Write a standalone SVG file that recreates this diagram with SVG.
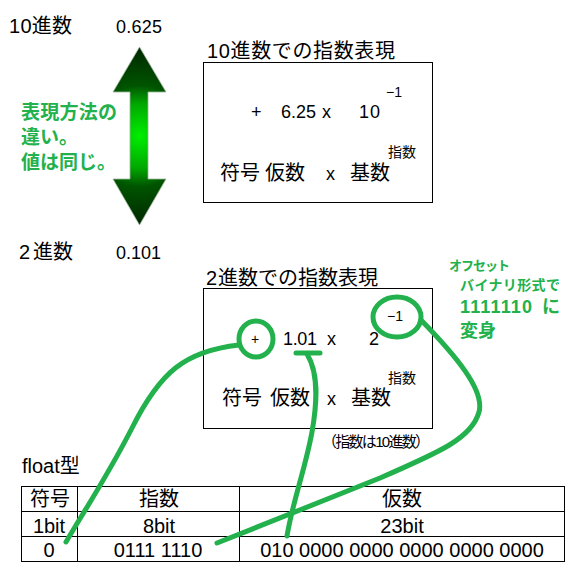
<svg xmlns="http://www.w3.org/2000/svg" width="575" height="577" viewBox="0 0 575 577">
<style>
text{font-family:"Liberation Sans","Noto Sans CJK JP",sans-serif;fill:#000}
.t20{font-size:20px}
.t18{font-size:18px}
.t14{font-size:14px}
.g{fill:#22b14c;font-weight:bold}
.box{fill:none;stroke:#000;stroke-width:1}
.hl{fill:none;stroke:#22b14c;stroke-width:5;stroke-linecap:round}
</style>
<defs>
<radialGradient id="ag" gradientUnits="userSpaceOnUse" cx="139.5" cy="136" r="92">
<stop offset="0" stop-color="#00ee00"/>
<stop offset="0.35" stop-color="#00a800"/>
<stop offset="0.55" stop-color="#005400"/>
<stop offset="1" stop-color="#002400"/>
</radialGradient>
</defs>
<rect width="575" height="577" fill="#fff"/>

<g id="labels-top">
<text class="t20" x="9" y="33" textLength="63" lengthAdjust="spacing">10進数</text>
<text class="t18" x="116" y="33" textLength="46" lengthAdjust="spacing">0.625</text>
<text class="t20" x="19" y="259">2<tspan x="33">進数</tspan></text>
<text class="t18" x="116" y="259" textLength="45" lengthAdjust="spacing">0.101</text>
</g>

<g id="arrow">
<polygon points="139.5,47 166,92 148,92 148,179 166,179 139.5,225 113,179 130,179 130,92 113,92" fill="url(#ag)" stroke="#9fb59f" stroke-width="0.8"/>
</g>

<g id="note-green">
<text class="g" x="21" y="119" font-size="19" textLength="96" lengthAdjust="spacing">表現方法の</text>
<text class="g" x="21" y="144" font-size="19">違い。</text>
<text class="g" x="21" y="169" font-size="19">値は同じ。</text>
</g>

<g id="decimal-exp">
<text class="t20" x="207" y="58" textLength="188" lengthAdjust="spacing">10進数での指数表現</text>
<rect class="box" x="203.5" y="62.5" width="229" height="140"/>
<text class="t18" x="251" y="118">+</text>
<text class="t18" x="281" y="118" textLength="35" lengthAdjust="spacing">6.25</text>
<text class="t18" x="322" y="118">x</text>
<text class="t18" x="359" y="118" textLength="21" lengthAdjust="spacing">10</text>
<text class="t14" x="386" y="97">−1</text>
<text class="t14" x="388" y="157">指数</text>
<text class="t20" y="180"><tspan x="220">符号</tspan><tspan x="265">仮数</tspan><tspan x="326" font-size="18">x</tspan><tspan x="350">基数</tspan></text>
</g>

<g id="binary-exp">
<text class="t20" x="206" y="285">2<tspan x="218">進数での指数表現</tspan></text>
<rect class="box" x="203.5" y="288.5" width="229" height="140"/>
<text class="t14" x="251" y="344">+</text>
<text class="t18" x="283" y="345" textLength="34" lengthAdjust="spacing">1.01</text>
<text class="t18" x="327" y="345">x</text>
<text class="t18" x="369" y="345">2</text>
<text class="t14" x="387" y="321">−1</text>
<text class="t14" x="388" y="383">指数</text>
<text class="t20" y="405"><tspan x="222">符号</tspan><tspan x="270">仮数</tspan><tspan x="327" font-size="18">x</tspan><tspan x="351">基数</tspan></text>
<text x="322" y="447" font-size="15" textLength="108" lengthAdjust="spacing">（指数は10進数）</text>
</g>

<g id="note-offset">
<text class="g" x="449" y="270" font-size="13" textLength="61" lengthAdjust="spacing">オフセット</text>
<text class="g" x="460" y="290" font-size="14" textLength="100" lengthAdjust="spacing">バイナリ形式で</text>
<text class="g" x="460" y="313" font-size="18" textLength="72" lengthAdjust="spacing">1111110</text>
<text class="g" x="542" y="313" font-size="18">に</text>
<text class="g" x="460" y="337" font-size="18">変身</text>
</g>

<g id="float-table">
<text class="t20" x="22" y="473">float型</text>
<rect class="box" x="21.5" y="486.5" width="543" height="75"/>
<line class="box" x1="21.5" y1="511.5" x2="564.5" y2="511.5"/>
<line class="box" x1="21.5" y1="536.5" x2="564.5" y2="536.5"/>
<line class="box" x1="77.5" y1="486.5" x2="77.5" y2="561.5"/>
<line class="box" x1="239.5" y1="486.5" x2="239.5" y2="561.5"/>
<g text-anchor="middle">
<text class="t20" x="50" y="506">符号</text>
<text class="t20" x="159" y="506">指数</text>
<text class="t20" x="402" y="506">仮数</text>
<text class="t20" x="49" y="533">1bit</text>
<text class="t20" x="159" y="533">8bit</text>
<text class="t20" x="402" y="533">23bit</text>
<text class="t20" x="49" y="557">0</text>
<text class="t20" x="158" y="557">0111 1110</text>
<text class="t20" x="402" y="557">010 0000 0000 0000 0000 0000</text>
</g>
</g>

<g id="connectors">
<ellipse class="hl" cx="256" cy="339" rx="17" ry="18"/>
<ellipse class="hl" cx="397" cy="317" rx="24" ry="20"/>
<line class="hl" x1="296" y1="353" x2="320" y2="353"/>
<path class="hl" d="M239,345 C185,351 160,372 132,428 C108,475 86,508 66,542"/>
<path class="hl" d="M307,354 C318,372 318,398 312,432 C305,470 293,500 287,536"/>
<path class="hl" d="M421,320 C455,355 485,390 479,412 C472,438 440,452 380,478 C320,502 270,522 217,543"/>
</g>
</svg>
